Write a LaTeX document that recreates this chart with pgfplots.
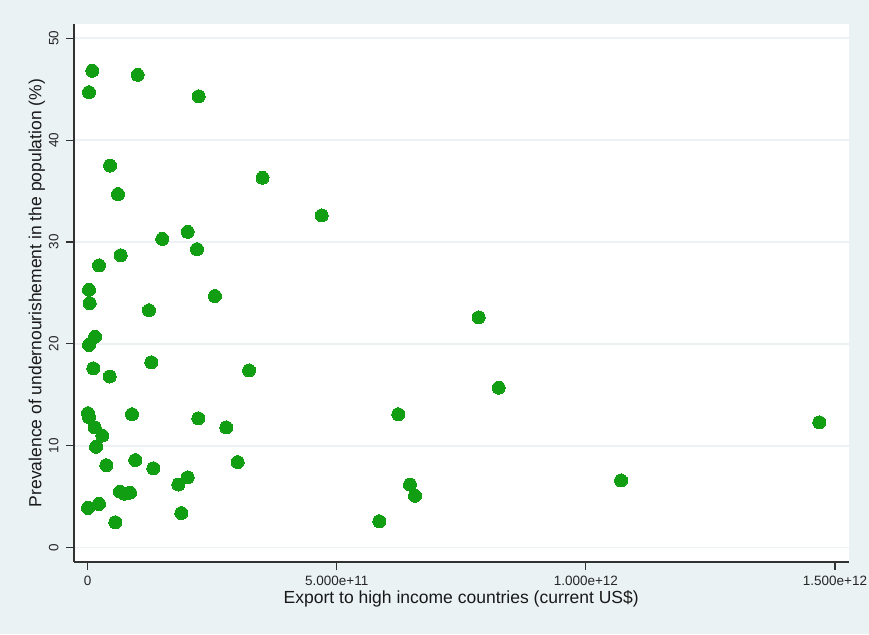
\documentclass[border=0pt]{standalone}
\usepackage{pgfplots}
\pgfplotsset{compat=1.18}
\usepackage{fontspec}
\setmainfont{Liberation Sans}

\definecolor{bgc}{RGB}{234,242,243}
\definecolor{gridc}{RGB}{236,241,243}
\definecolor{axc}{RGB}{50,50,50}
\definecolor{dotc}{RGB}{18,158,18}

% Export (billions of US$) vs. prevalence of undernourishment (%)
\pgfplotstableread{
x y
9.2 46.8
2.6 44.7
100.4 46.4
222.8 44.3
44.8 37.5
60.8 34.7
350.9 36.3
469.7 32.6
149.7 30.3
200.7 31.0
219.4 29.3
66.2 28.7
22.7 27.7
2.6 25.3
4.0 24.0
123.0 23.3
255.5 24.7
784.8 22.6
14.7 20.7
2.6 19.9
11.2 17.6
44.2 16.8
127.7 18.2
323.8 17.4
825.0 15.7
0.6 13.2
2.6 12.8
88.9 13.1
222.0 12.7
623.4 13.1
1468.5 12.3
14.1 11.8
29.3 11.0
278.2 11.8
16.7 9.9
37.3 8.1
95.5 8.6
131.7 7.8
301.1 8.4
64.8 5.5
73.9 5.3
84.9 5.4
181.9 6.2
200.7 6.9
646.9 6.2
657.0 5.1
1070.5 6.6
0.6 3.9
22.7 4.3
55.4 2.5
187.9 3.4
585.3 2.6
}\exportdata

\begin{document}
\begin{tikzpicture}[x=1pt,y=1pt]
\fill[bgc] (0,0) rectangle (869,634);
\path[use as bounding box] (0,0) rectangle (869,634);
\begin{axis}[
  at={(74pt,72pt)}, anchor=south west,
  scale only axis, width=774.5pt, height=538pt,
  xmin=-27.5, xmax=1527.1, ymin=-1.40, ymax=51.39,
  axis x line*=bottom, axis y line*=left,
  axis line style={axc, line width=1.3pt, -},
  axis background/.style={fill=white},
  xtick={0,500,1000,1500},
  xticklabels={0,5.000e+11,1.000e+12,1.500e+12},
  ytick={0,10,20,30,40,50},
  tick align=outside, major tick length=8pt,
  tick style={axc, line width=1.1pt},
  ymajorgrids, grid style={gridc, line width=1.4pt},
  /pgf/number format/assume math mode=true,
  ticklabel style={font=\fontsize{13.5}{16}\selectfont, text=black!85},
  yticklabel style={rotate=90, anchor=south},
  yticklabel shift=4pt, xticklabel shift=3pt,
  label style={font=\fontsize{17.5}{20}\selectfont, text=black!90},
  xlabel={Export to high income countries (current US\$)},
  ylabel={Prevalence of undernourishement in the population (\%)},
  xlabel style={at={(axis description cs:0.5,-0.0688)}, anchor=center},
  ylabel style={at={(axis description cs:-0.0478,0.5)}, anchor=center},
  clip=false,
]
\addplot[only marks, mark=*, mark size=6.5pt, mark options={fill=dotc, draw=dotc, line width=0pt}] table[x=x,y=y] {\exportdata};
\end{axis}
\end{tikzpicture}
\end{document}
